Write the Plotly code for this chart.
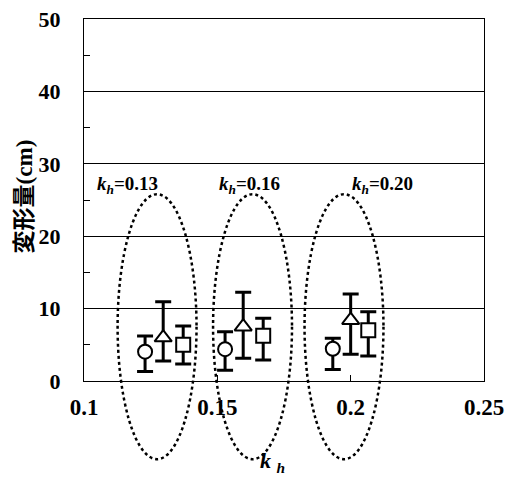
import plotly.graph_objects as go

# Deformation (cm) for three test series at each seismic coefficient kh
circle_x = [0.1229, 0.1529, 0.1933]
circle_y = [4.05, 4.4, 4.45]
circle_hi = [6.2, 6.8, 5.9]
circle_lo = [1.3, 1.5, 1.6]

tri_x = [0.1297, 0.1597, 0.2000]
tri_y = [6.0, 7.5, 8.4]
tri_hi = [10.95, 12.25, 12.0]
tri_lo = [2.75, 3.15, 3.7]

sq_x = [0.1372, 0.1672, 0.2066]
sq_y = [5.0, 6.25, 7.0]
sq_hi = [7.6, 8.65, 9.55]
sq_lo = [2.35, 2.9, 3.45]

# group labels and dotted ellipses around each kh group
kh_labels = ["0.13", "0.16", "0.20"]
label_x = [0.1041, 0.1499, 0.1998]
label_y = 27.1
ellipse_cx = [0.1274, 0.1632, 0.1975]
ellipse_halfw = 0.0148
ellipse_top = 25.8
ellipse_bottom = -10.8

x_tickvals = [0.1, 0.15, 0.2, 0.25]
x_ticktext = ["0.1", "0.15", "0.2", "0.25"]
X_RANGE = [0.1, 0.25]
Y_RANGE = [0, 50]

SERIF = "Liberation Serif"


def err(y, hi, lo):
    return dict(type="data", symmetric=False,
                array=[h - v for h, v in zip(hi, y)],
                arrayminus=[v - l for v, l in zip(y, lo)],
                color="black", thickness=3, width=8)


fig = go.Figure()
for xs, ys, hi, lo, sym, size in [
    (circle_x, circle_y, circle_hi, circle_lo, "circle", 14),
    (tri_x, tri_y, tri_hi, tri_lo, "triangle-up", 15),
    (sq_x, sq_y, sq_hi, sq_lo, "square", 14),
]:
    fig.add_trace(go.Scatter(
        x=xs, y=ys, mode="markers",
        marker=dict(symbol=sym, size=size, color="white",
                    line=dict(color="black", width=2)),
        error_y=err(ys, hi, lo),
        showlegend=False,
    ))


def px(v):
    return (v - X_RANGE[0]) / (X_RANGE[1] - X_RANGE[0])


def py(v):
    return (v - Y_RANGE[0]) / (Y_RANGE[1] - Y_RANGE[0])


shapes = []
for cx in ellipse_cx:
    shapes.append(dict(
        type="circle", xref="paper", yref="paper",
        x0=px(cx - ellipse_halfw), x1=px(cx + ellipse_halfw),
        y0=py(ellipse_bottom), y1=py(ellipse_top),
        line=dict(color="black", width=2.5, dash="dot"),
        layer="above",
    ))

annotations = []
for lx, t in zip(label_x, kh_labels):
    annotations.append(dict(
        x=lx, y=label_y, xref="x", yref="y",
        xanchor="left", yanchor="middle", showarrow=False,
        text="<b><i>k</i><sub><i>h</i></sub>=" + t + "</b>",
        font=dict(family=SERIF, size=19, color="black"),
    ))

# axis titles
annotations.append(dict(
    x=-0.15, y=0.51, xref="paper", yref="paper",
    xanchor="center", yanchor="middle", showarrow=False, textangle=-90,
    text="<b>変形量(cm)</b>",
    font=dict(family=SERIF + ", Noto Sans CJK JP", size=23, color="black"),
))
annotations.append(dict(
    x=0.47, y=-0.225, xref="paper", yref="paper",
    xanchor="center", yanchor="middle", showarrow=False,
    text="<b><i>k</i> <sub><i>h</i></sub></b>",
    font=dict(family=SERIF, size=22, color="black"),
))

fig.update_layout(
    width=507, height=477,
    margin=dict(l=84, r=23, t=19, b=96, autoexpand=False),
    paper_bgcolor="white", plot_bgcolor="white",
    shapes=shapes, annotations=annotations,
    xaxis=dict(
        range=X_RANGE, tickvals=x_tickvals, ticktext=x_ticktext,
        ticks="inside", ticklen=6, tickcolor="black",
        showline=True, linecolor="black", linewidth=1, mirror=True,
        showgrid=False, zeroline=False, ticklabelstandoff=5,
        ticklabeloverflow="allow", automargin=False,
        tickfont=dict(family=SERIF, size=23, color="black", weight="bold"),
    ),
    yaxis=dict(
        range=Y_RANGE, dtick=10, ticks="",
        showline=True, linecolor="black", linewidth=1, mirror=True,
        showgrid=True, gridcolor="black", gridwidth=1, zeroline=False,
        minor=dict(dtick=5, ticks="inside", ticklen=6, tickcolor="black",
                   showgrid=False),
        ticklabelstandoff=18, automargin=False,
        tickfont=dict(family=SERIF, size=22, color="black", weight="bold"),
    ),
)

fig.write_html("out.html")
